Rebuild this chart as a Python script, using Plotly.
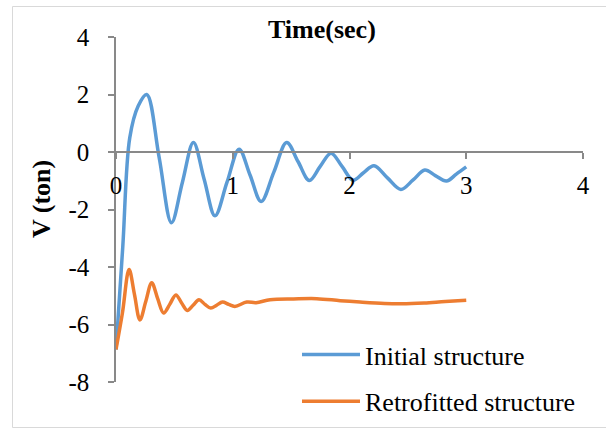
import plotly.graph_objects as go

# ---- data ----
t_initial = [0, 0.058, 0.118, 0.19, 0.263, 0.37, 0.475, 0.569, 0.663, 0.755, 0.848,
             0.951, 1.054, 1.148, 1.243, 1.352, 1.462, 1.559, 1.656, 1.749, 1.842,
             1.936, 2.03, 2.12, 2.21, 2.325, 2.44, 2.545, 2.645, 2.735, 2.83, 2.915, 3.0]
v_initial = [-6.87, -3.3, 0.5, 1.6, 2.0, -0.2, -2.46, -1.05, 0.33, -0.95, -2.22,
             -1.05, 0.10, -0.8, -1.72, -0.7, 0.33, -0.33, -0.99, -0.5, -0.04,
             -0.5, -0.98, -0.72, -0.48, -0.9, -1.30, -0.97, -0.63, -0.82, -1.01, -0.77, -0.52]

t_retro = [0, 0.055, 0.112, 0.158, 0.205, 0.255, 0.306, 0.357, 0.408, 0.46, 0.513,
           0.562, 0.611, 0.66, 0.711, 0.762, 0.812, 0.862, 0.912, 0.965, 1.018,
           1.12, 1.2, 1.32, 1.52, 1.72, 1.92, 2.09, 2.3, 2.45, 2.64, 2.82, 3.0]
v_retro = [-6.87, -5.6, -4.09, -4.95, -5.84, -5.2, -4.55, -5.1, -5.60, -5.3, -4.97,
           -5.25, -5.51, -5.33, -5.14, -5.3, -5.43, -5.33, -5.22, -5.3, -5.37,
           -5.22, -5.24, -5.14, -5.11, -5.10, -5.17, -5.22, -5.27, -5.28, -5.25, -5.2, -5.16]

series_names = ["Initial structure", "Retrofitted structure"]
x_ticks = [0, 1, 2, 3, 4]
y_ticks = [4, 2, 0, -2, -4, -6, -8]
x_title = "Time(sec)"
y_title = "V (ton)"

# ---- styling ----
FONT = "Liberation Serif"
AXIS_COLOR = "#898989"
BLUE = "#5B9BD5"
ORANGE = "#ED7D31"

W, H = 606, 429
# plot area in pixels
PX0, PX1 = 116, 583
PY_TOP, PY_BOT = 37, 382

def pxx(px):
    return px / W

def pxy(py):
    return (H - py) / H

fig = go.Figure()
fig.add_trace(go.Scatter(x=t_initial, y=v_initial, mode="lines", name=series_names[0],
                         legendgroup="a",
                         line=dict(color=BLUE, width=3.5, shape="spline", smoothing=1.0)))
fig.add_trace(go.Scatter(x=t_retro, y=v_retro, mode="lines", name=series_names[1],
                         legendgroup="b",
                         line=dict(color=ORANGE, width=3.5, shape="spline", smoothing=1.0)))

fig.update_layout(
    width=W, height=H,
    margin=dict(l=0, r=0, t=0, b=0, pad=0, autoexpand=False),
    paper_bgcolor="white", plot_bgcolor="white",
    font=dict(family=FONT, color="black", size=25),
    showlegend=True,
    legend=dict(
        x=pxx(297), y=pxy(331),
        xanchor="left", yanchor="top",
        font=dict(family=FONT, size=26, color="black"),
        bgcolor="rgba(0,0,0,0)",
        tracegroupgap=10,
        itemwidth=58,
    ),
    xaxis=dict(
        domain=[pxx(PX0), pxx(PX1)],
        range=[0, 4], tickvals=x_ticks, ticktext=[str(v) for v in x_ticks],
        showline=True, linecolor=AXIS_COLOR, linewidth=1.5,
        ticks="outside", ticklen=6, tickcolor=AXIS_COLOR, tickwidth=1.5,
        showgrid=False, zeroline=False,
        anchor="free", position=pxy(PY_BOT) + (pxy(PY_TOP) - pxy(PY_BOT)) * (0 - (-8)) / 12,
        tickfont=dict(family=FONT, size=25, color="black"),
        ticklabelstandoff=5,
        automargin=False,
    ),
    yaxis=dict(
        domain=[pxy(PY_BOT), pxy(PY_TOP)],
        range=[-8, 4], tickvals=y_ticks, ticktext=[str(v) for v in y_ticks],
        showline=True, linecolor=AXIS_COLOR, linewidth=1.5,
        ticks="outside", ticklen=6, tickcolor=AXIS_COLOR, tickwidth=1.5,
        showgrid=False, zeroline=False,
        tickfont=dict(family=FONT, size=25, color="black"),
        ticklabelstandoff=14,
        automargin=False,
    ),
    annotations=[
        dict(text="<b>" + x_title + "</b>", xref="paper", yref="paper",
             x=pxx(322), y=pxy(29), xanchor="center", yanchor="middle",
             showarrow=False, font=dict(family=FONT, size=26, color="black")),
        dict(text="<b>" + y_title + "</b>", xref="paper", yref="paper",
             x=pxx(42), y=pxy(199), xanchor="center", yanchor="middle",
             textangle=-90, showarrow=False, font=dict(family=FONT, size=26, color="black")),
    ],
    shapes=[
        dict(type="rect", xref="paper", yref="paper",
             x0=pxx(12.5), x1=pxx(612),
             y0=pxy(427.5), y1=pxy(6.5),
             line=dict(color="#D9D9D9", width=1), fillcolor="rgba(0,0,0,0)", layer="below"),
    ],
)

fig.write_html("out.html")
